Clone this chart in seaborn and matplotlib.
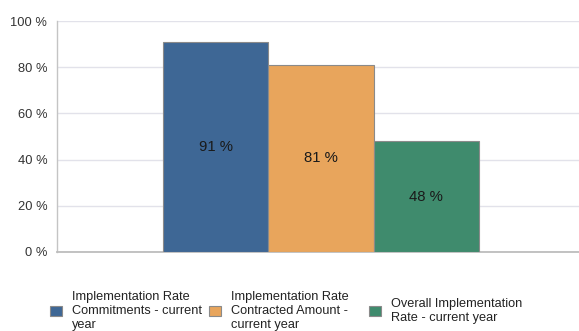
import matplotlib
matplotlib.use("Agg")
import matplotlib.pyplot as plt
import seaborn as sns
import pandas as pd

# Implementation rates for the current year
series = [
    "Implementation Rate\nCommitments - current\nyear",
    "Implementation Rate\nContracted Amount -\ncurrent year",
    "Overall Implementation\nRate - current year",
]
rates = [91, 81, 48]
colors = ["#3e6795", "#e8a55c", "#3f8b6d"]
yticks = [0, 20, 40, 60, 80, 100]

df = pd.DataFrame({"period": ["current year"] * len(series),
                   "series": series,
                   "rate": rates})

sns.set_style("white")
plt.rcParams["font.family"] = ["Liberation Sans", "DejaVu Sans"]

fig = plt.figure(figsize=(5.79, 3.31), dpi=100)
ax = fig.add_axes([57 / 579, 1 - 252 / 331, 1 - 57 / 579, (252 - 21) / 331])

sns.barplot(data=df, x="period", y="rate", hue="series", hue_order=series,
            palette=colors, saturation=1, width=0.6054, gap=0, dodge=True,
            edgecolor="#8a8a8a", linewidth=0.8, legend=False, ax=ax,
            zorder=3)

ax.set_xlim(-0.5058, 0.4942)
ax.set_ylim(0, 100)
ax.set_yticks(yticks)
ax.set_yticklabels([f"{t} %" for t in yticks])
ax.set_xticks([])
ax.set_xlabel("")
ax.set_ylabel("")
ax.tick_params(axis="y", length=0, pad=7, labelsize=9.3, labelcolor="#333333")

ax.grid(axis="y", color="#e2e2ea", linewidth=1, zorder=0)
ax.set_axisbelow(True)
for side in ("top", "right"):
    ax.spines[side].set_visible(False)
ax.spines["left"].set_color("#c4c4c4")
ax.spines["left"].set_linewidth(1)
ax.spines["bottom"].set_color("#bdbdbd")
ax.spines["bottom"].set_linewidth(1.3)

for cont, val in zip(ax.containers, rates):
    ax.bar_label(cont, labels=[f"{val} %"], label_type="center",
                 fontsize=10.7, color="#1a1a1a")

# One legend entry per column, placed at fixed positions below the axes
handles = [c.patches[0] for c in ax.containers]
xpos = [50, 209, 369]
for h, lab, x in zip(handles, series, xpos):
    leg = fig.legend([h], [lab], loc="center left",
                     bbox_to_anchor=(x / 579, 1 - 311 / 331),
                     frameon=False, borderpad=0, borderaxespad=0,
                     handlelength=0.92, handleheight=0.92,
                     handletextpad=0.8, prop={"size": 9.2})
    for t in leg.get_texts():
        t.set_linespacing(1.22)
        t.set_color("#222222")

fig.savefig("out.png", dpi=100)
